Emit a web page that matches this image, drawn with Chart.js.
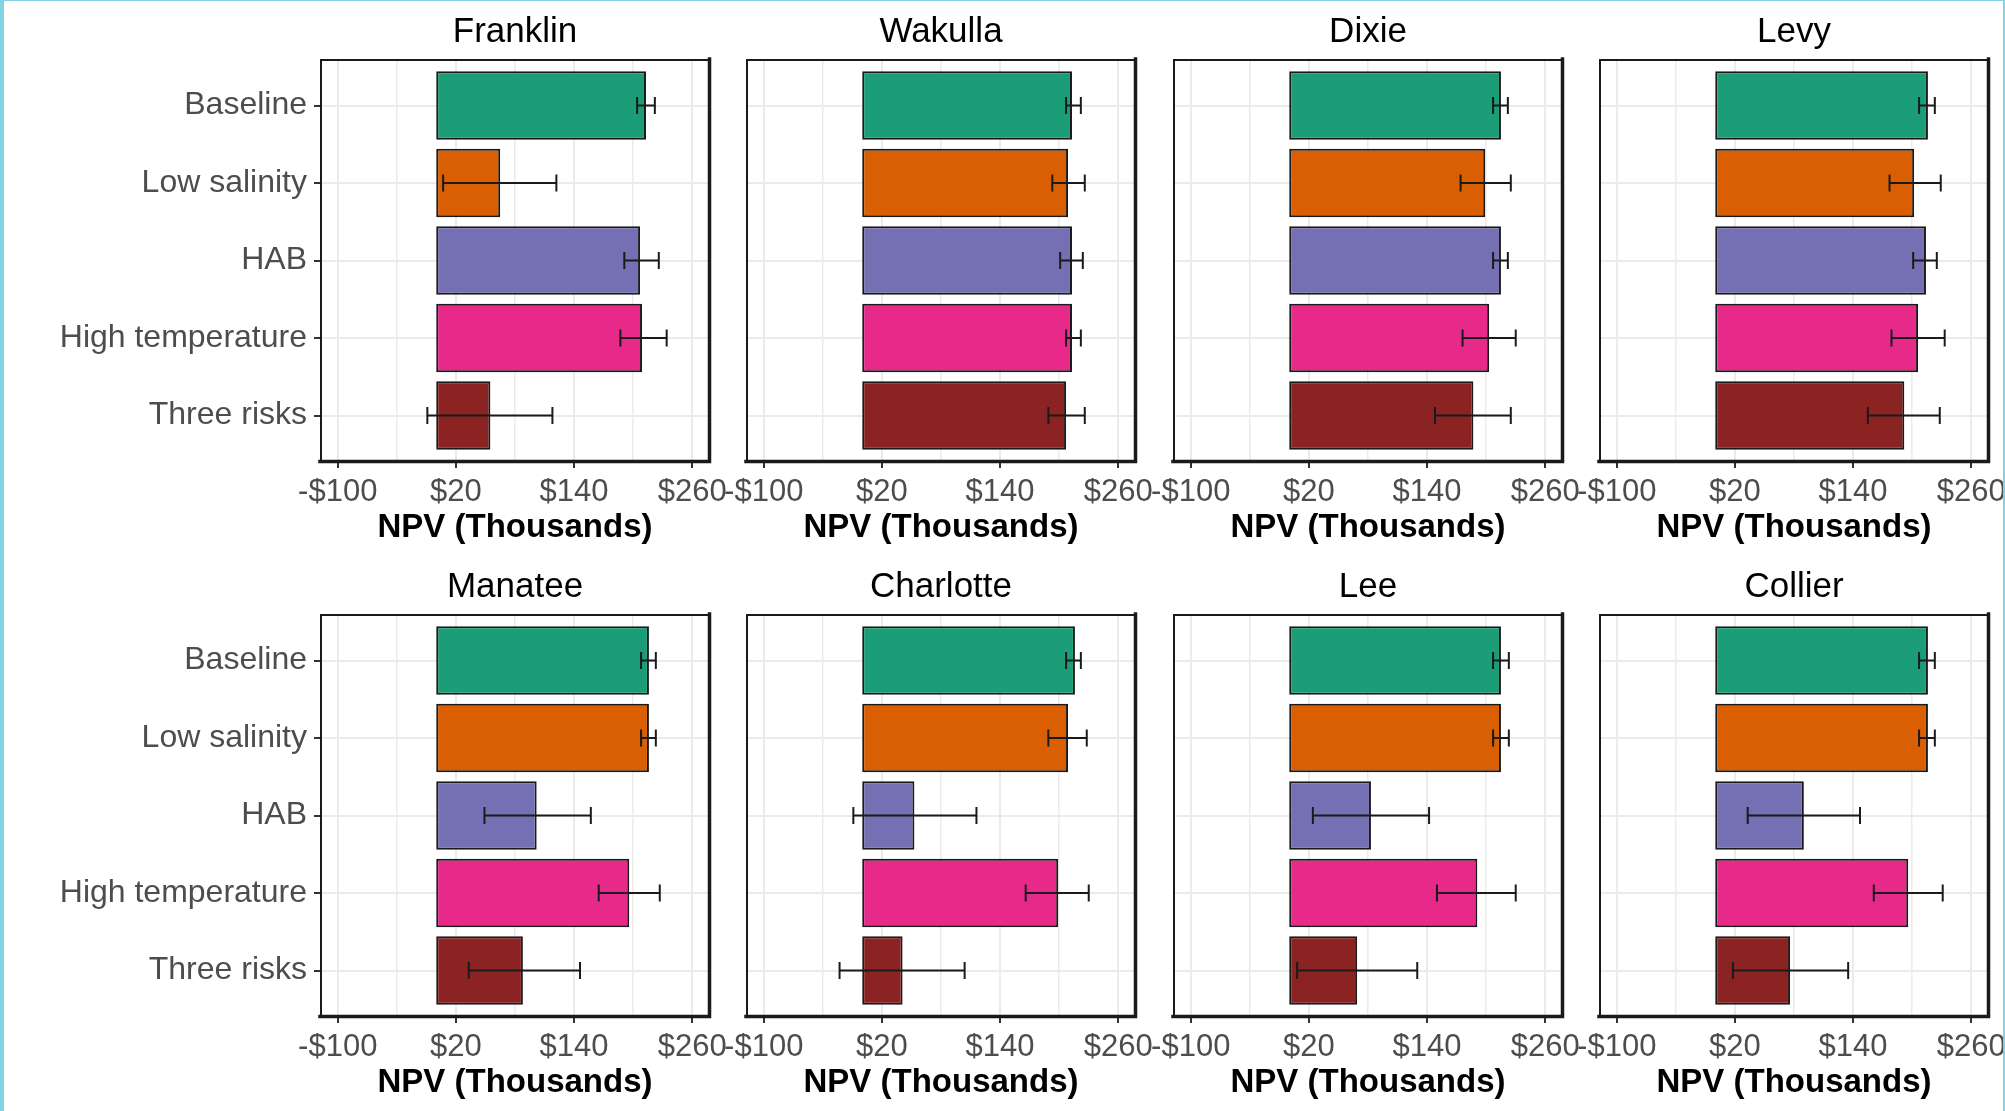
<!DOCTYPE html>
<html>
<head>
<meta charset="utf-8">
<script src="https://cdn.jsdelivr.net/npm/chart.js@4.4.1/dist/chart.umd.min.js"></script>
<style>
html,body{margin:0;padding:0;background:#ffffff;}
body{width:2005px;height:1111px;position:relative;overflow:hidden;}
#frame{position:absolute;left:0;top:0;width:2005px;height:1111px;box-sizing:border-box;border-left:4px solid #80d4e4;border-top:1px solid #80d4e4;border-right:2px solid #80d4e4;pointer-events:none;z-index:10;}
canvas{position:absolute;}
</style>
</head>
<body>
<div id="frame"></div>
<script>
// ---------- data ----------
const categories = ['Baseline', 'Low salinity', 'HAB', 'High temperature', 'Three risks'];
const counties = ['Franklin', 'Wakulla', 'Dixie', 'Levy', 'Manatee', 'Charlotte', 'Lee', 'Collier'];

const franklin   = [213, 65, 207, 209, 55];
const franklinLo = [204, 7, 191, 187, -9];
const franklinHi = [222, 122, 226, 234, 118];

const wakulla   = [213, 209, 213, 213, 207];
const wakullaLo = [207, 193, 201, 207, 189];
const wakullaHi = [222, 226, 224, 222, 226];

const dixie   = [215, 199, 215, 203, 187];
const dixieLo = [207, 174, 207, 176, 148];
const dixieHi = [222, 225, 222, 230, 225];

const levy   = [216, 202, 214, 206, 192];
const levyLo = [207, 177, 201, 179, 155];
const levyHi = [223, 229, 225, 233, 228];

const manatee   = [216, 216, 102, 196, 88];
const manateeLo = [208, 208, 49, 165, 33];
const manateeHi = [223, 223, 157, 227, 146];

const charlotte   = [216, 209, 53, 199, 41];
const charlotteLo = [207, 189, -9, 166, -23];
const charlotteHi = [222, 228, 116, 230, 104];

const lee   = [215, 215, 83, 191, 69];
const leeLo = [207, 207, 24, 150, 8];
const leeHi = [223, 223, 142, 230, 130];

const collier   = [216, 216, 90, 196, 76];
const collierLo = [207, 207, 33, 161, 18];
const collierHi = [223, 223, 147, 231, 135];

const xMajorTicks = [-100, 20, 140, 260];
const xMinorTicks = [-40, 80, 200];
const xLimits = [-118, 278];

// ---------- styling ----------
const barColors = ['#1B9E77', '#D95F02', '#7570B3', '#E7298A', '#8B2323'];
const FONT = "'Liberation Sans', Arial, Helvetica, sans-serif";
const PANEL_LEFT = [320, 746, 1173, 1599];
const PANEL_W = 390;
const YAXIS_W = 320;
const RIGHT_PAD = 40;
const XAXIS_H = 90;
const CANVAS_H = 552;
const ROW_TOP = [0, 555];

const panelMeans = [franklin, wakulla, dixie, levy, manatee, charlotte, lee, collier];
const panelLows  = [franklinLo, wakullaLo, dixieLo, levyLo, manateeLo, charlotteLo, leeLo, collierLo];
const panelHighs = [franklinHi, wakullaHi, dixieHi, levyHi, manateeHi, charlotteHi, leeHi, collierHi];

function money(v) {
  return v < 0 ? '-$' + Math.abs(v) : '$' + v;
}

const panelBorder = {
  id: 'panelBorder',
  afterDraw(chart) {
    const {ctx, chartArea: a} = chart;
    ctx.save();
    ctx.strokeStyle = '#1a1a1a';
    ctx.lineCap = 'square';
    ctx.lineWidth = 2;
    ctx.beginPath();
    ctx.moveTo(a.left + 1, a.bottom); ctx.lineTo(a.left + 1, a.top + 1); ctx.lineTo(a.right, a.top + 1);
    ctx.stroke();
    ctx.lineWidth = 3.5;
    ctx.beginPath();
    ctx.moveTo(a.right - 0.5, a.top); ctx.lineTo(a.right - 0.5, a.bottom - 0.5); ctx.lineTo(a.left, a.bottom - 0.5);
    ctx.stroke();
    ctx.restore();
  }
};

function makePanel(idx) {
  const col = idx % 4, row = Math.floor(idx / 4);
  const mean = panelMeans[idx], lo = panelLows[idx], hi = panelHighs[idx];
  const canvas = document.createElement('canvas');
  canvas.width = YAXIS_W + PANEL_W + RIGHT_PAD;
  canvas.height = CANVAS_H;
  canvas.style.left = (PANEL_LEFT[col] - YAXIS_W) + 'px';
  canvas.style.top = ROW_TOP[row] + 'px';
  document.body.appendChild(canvas);
  const showY = col === 0;

  const datasets = [{
    type: 'bar',
    data: mean.map((v, i) => ({x: v, y: i})),
    backgroundColor: barColors,
    borderColor: '#1a1a1a',
    borderWidth: 2,
    borderSkipped: false,
    barPercentage: 0.885,
    categoryPercentage: 1,
    order: 2
  }];
  categories.forEach((c, i) => {
    datasets.push({
      type: 'line',
      data: [{x: lo[i], y: i}, {x: hi[i], y: i}],
      borderColor: '#1a1a1a',
      borderWidth: 2,
      fill: false,
      tension: 0,
      pointStyle: 'line',
      pointRotation: 90,
      pointRadius: 8.5,
      pointHoverRadius: 8.5,
      pointBorderWidth: 2,
      pointBorderColor: '#1a1a1a',
      pointBackgroundColor: '#1a1a1a',
      clip: false,
      order: 1
    });
  });

  new Chart(canvas, {
    data: {datasets},
    options: {
      indexAxis: 'y',
      responsive: false,
      animation: false,
      events: [],
      layout: {padding: {left: 0, right: RIGHT_PAD, top: 0, bottom: 0}},
      plugins: {
        legend: {display: false},
        tooltip: {enabled: false},
        title: {
          display: true,
          text: counties[idx],
          fullSize: false,
          color: '#000000',
          font: {family: FONT, size: 35, weight: 'normal'},
          padding: {top: 11.5, bottom: 5.5}
        }
      },
      scales: {
        x: {
          type: 'linear',
          position: 'bottom',
          min: xLimits[0],
          max: xLimits[1],
          offset: false,
          afterBuildTicks: s => {
            s.ticks = [...xMajorTicks, ...xMinorTicks].sort((a, b) => a - b).map(v => ({value: v}));
          },
          afterFit: s => { s.height = XAXIS_H; },
          border: {display: false},
          grid: {
            offset: false,
            color: '#ebebeb',
            lineWidth: ctx => (ctx.tick && xMajorTicks.includes(ctx.tick.value)) ? 2 : 1.5,
            drawTicks: true,
            tickLength: 6,
            tickWidth: 2,
            tickColor: ctx => (ctx.tick && xMajorTicks.includes(ctx.tick.value)) ? '#333333' : 'rgba(0,0,0,0)'
          },
          ticks: {
            autoSkip: false,
            maxRotation: 0,
            minRotation: 0,
            padding: 6,
            color: '#4d4d4d',
            font: {family: FONT, size: 31},
            callback: v => xMajorTicks.includes(v) ? money(v) : ''
          },
          title: {
            display: true,
            text: 'NPV (Thousands)',
            color: '#000000',
            font: {family: FONT, size: 33, weight: 'bold'},
            padding: {top: 0, bottom: 4.5}
          }
        },
        y: {
          type: 'linear',
          position: 'left',
          min: -0.6,
          max: 4.6,
          reverse: true,
          offset: false,
          afterBuildTicks: s => { s.ticks = categories.map((c, i) => ({value: i})); },
          afterFit: s => { s.width = YAXIS_W; },
          border: {display: false},
          grid: {
            offset: false,
            color: '#ebebeb',
            lineWidth: 2,
            drawTicks: showY,
            tickLength: 6,
            tickWidth: 2,
            tickColor: '#333333'
          },
          ticks: {
            display: showY,
            autoSkip: false,
            padding: 7,
            color: '#4d4d4d',
            font: {family: FONT, size: 32},
            callback: v => categories[v]
          }
        }
      }
    },
    plugins: [panelBorder]
  });
}

counties.forEach((c, i) => makePanel(i));
</script>
</body>
</html>
